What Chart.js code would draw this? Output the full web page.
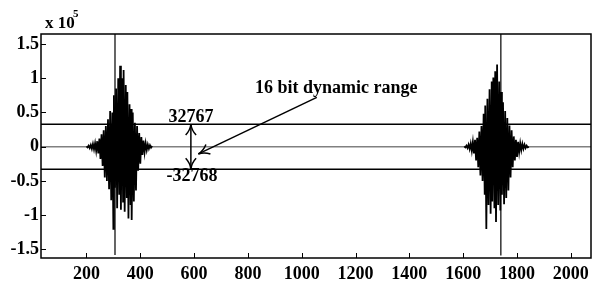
<!DOCTYPE html>
<html><head><meta charset="utf-8">
<script src="https://cdn.jsdelivr.net/npm/chart.js@4"></script>
<style>html,body{margin:0;padding:0;background:#fff}canvas{display:block}</style>
</head><body>
<canvas id="c" width="601" height="282"></canvas>
<script>
// values in units of 1e5 (axis shows "x 10^5")
const burst1X = [200,204,208,212,216,220,224,228,232,236,240,244,248,252,256,260,264,268,272,276,280,284,288,292,296,300,302,306,310,314,318,322,325,328,332,336,338,342,346,350,352,356,360,364,366,368,372,376,380,384,388,392,396,400,404,408,412,416,420,424,428,432,436,440,444];
const burst1Y = [0.005,-0.01,0.015,-0.02,0.025,-0.03,0.04,-0.04,0.05,-0.06,0.08,-0.1,0.12,-0.18,0.18,-0.28,0.24,-0.45,0.3,-0.5,0.4,-0.62,0.52,-0.78,0.5,-1.2,0.75,-0.6,0.85,-0.9,1.0,-0.7,1.18,-0.92,1.0,-0.8,1.12,-0.95,0.9,-0.75,0.8,-1.05,0.62,-0.85,0.55,-1.07,0.5,-0.8,0.35,-0.64,0.3,-0.35,0.2,-0.25,0.14,-0.12,0.09,-0.08,0.05,-0.05,0.03,-0.03,0.02,-0.015,0.01];
const burst2X = [1604,1608,1612,1616,1620,1624,1628,1632,1636,1640,1644,1648,1652,1656,1660,1664,1668,1672,1676,1680,1682,1686,1690,1694,1698,1702,1706,1708,1712,1716,1719,1722,1726,1730,1734,1738,1741,1744,1748,1752,1756,1760,1764,1768,1772,1776,1780,1784,1788,1792,1796,1800,1804,1808,1812,1816,1820,1824,1828,1832,1836,1840,1844];
const burst2Y = [0.005,-0.01,0.015,-0.02,0.03,-0.035,0.045,-0.06,0.07,-0.1,0.1,-0.2,0.13,-0.3,0.22,-0.42,0.3,-0.5,0.48,-0.7,0.6,-1.2,0.7,-0.85,0.84,-0.98,0.95,-0.8,1.01,-0.9,1.1,-1.1,1.2,-0.85,0.95,-0.93,0.8,-0.7,0.65,-0.84,0.52,-0.75,0.42,-0.64,0.31,-0.45,0.24,-0.3,0.15,-0.2,0.1,-0.15,0.07,-0.08,0.05,-0.05,0.04,-0.03,0.03,-0.02,0.015,-0.01,0.0];
const spikeX = [306, 1740];
const spikeTop = [1.7, 1.7];
const spikeBottom = [-1.58, -1.59];
const levelValues = [0.32767, 0, -0.32768];
const levelColors = ['#000000', '#808080', '#000000'];
const xTickValues = [200,400,600,800,1000,1200,1400,1600,1800,2000];
const yTickValues = [-1.5,-1,-0.5,0,0.5,1,1.5];
const xRange = [31, 2075];
const yRange = [-1.625, 1.645];

const annotations = {
  labels: [
    {text: '32767', x: 588, y: 0.426},
    {text: '-32768', x: 592, y: -0.437},
    {text: '16 bit dynamic range', x: 1128, y: 0.856}
  ],
  doubleArrow: {x: 588, y1: 0.32767, y2: -0.32768},
  pointer: {x1: 1056, y1: 0.72, x2: 616, y2: -0.106}
};

const FONT = '"Liberation Serif", "Times New Roman", serif';

function toXY(xs, ys) { return xs.map((x, i) => ({x: x, y: ys[i]})); }

const datasets = [
  {data: toXY(burst1X, burst1Y), borderColor: '#000', borderWidth: 1.8, pointRadius: 0, tension: 0},
  {data: toXY(burst2X, burst2Y), borderColor: '#000', borderWidth: 1.8, pointRadius: 0, tension: 0}
];
spikeX.forEach((x, i) => {
  datasets.push({data: [{x: x, y: spikeTop[i]}, {x: x, y: spikeBottom[i]}], borderColor: '#000', borderWidth: 1.2, pointRadius: 0});
});
levelValues.forEach((v, i) => {
  datasets.push({data: [{x: xRange[0], y: v}, {x: xRange[1], y: v}], borderColor: levelColors[i], borderWidth: 1.5, pointRadius: 0});
});

function head(ctx, tx, ty, ang) {
  const L = 12, a = 0.45;
  for (const s of [-1, 1]) {
    const bx = tx - L * Math.cos(ang + s * a), by = ty - L * Math.sin(ang + s * a);
    const cx = tx - 0.5 * L * Math.cos(ang + s * a * 0.25), cy = ty - 0.5 * L * Math.sin(ang + s * a * 0.25);
    ctx.beginPath(); ctx.moveTo(tx, ty); ctx.quadraticCurveTo(cx, cy, bx, by); ctx.stroke();
  }
}

const decor = {
  id: 'decor',
  afterDraw(chart) {
    const ctx = chart.ctx, xs = chart.scales.x, ys = chart.scales.y, a = chart.chartArea;
    ctx.save();
    ctx.strokeStyle = '#000'; ctx.lineWidth = 1.5;
    ctx.strokeRect(a.left, a.top, a.right - a.left, a.bottom - a.top);
    ctx.lineWidth = 1;
    xTickValues.forEach(v => { const p = Math.round(xs.getPixelForValue(v)) + 0.5; ctx.beginPath(); ctx.moveTo(p, a.bottom); ctx.lineTo(p, a.bottom - 5); ctx.stroke(); });
    yTickValues.forEach(v => { const p = Math.round(ys.getPixelForValue(v)) + 0.5; ctx.beginPath(); ctx.moveTo(a.left, p); ctx.lineTo(a.left + 5, p); ctx.stroke(); });
    // exponent label
    ctx.fillStyle = '#000';
    ctx.textAlign = 'left'; ctx.textBaseline = 'alphabetic';
    ctx.font = 'bold 17px ' + FONT;
    ctx.fillText('x 10', 45, 28);
    ctx.font = 'bold 11px ' + FONT;
    ctx.fillText('5', 73, 17);
    // text annotations
    ctx.font = 'bold 18px ' + FONT;
    ctx.textAlign = 'center'; ctx.textBaseline = 'middle';
    annotations.labels.forEach(l => ctx.fillText(l.text, xs.getPixelForValue(l.x), ys.getPixelForValue(l.y)));
    // double arrow
    ctx.lineWidth = 1.5;
    const d = annotations.doubleArrow;
    const dx = xs.getPixelForValue(d.x), dy1 = ys.getPixelForValue(d.y1), dy2 = ys.getPixelForValue(d.y2);
    ctx.beginPath(); ctx.moveTo(dx, dy1); ctx.lineTo(dx, dy2); ctx.stroke();
    head(ctx, dx, dy1, -Math.PI / 2);
    head(ctx, dx, dy2, Math.PI / 2);
    // pointer arrow
    const p = annotations.pointer;
    const px1 = xs.getPixelForValue(p.x1), py1 = ys.getPixelForValue(p.y1), px2 = xs.getPixelForValue(p.x2), py2 = ys.getPixelForValue(p.y2);
    ctx.beginPath(); ctx.moveTo(px1, py1); ctx.lineTo(px2, py2); ctx.stroke();
    head(ctx, px2, py2, Math.atan2(py2 - py1, px2 - px1));
    ctx.restore();
  }
};

new Chart(document.getElementById('c'), {
  type: 'line',
  data: {datasets: datasets},
  options: {
    responsive: false, animation: false, devicePixelRatio: 1,
    layout: {padding: {left: 0, right: 10, top: 34, bottom: 0}},
    plugins: {legend: {display: false}, tooltip: {enabled: false}},
    elements: {line: {borderCapStyle: 'butt', borderJoinStyle: 'miter'}},
    scales: {
      x: {
        type: 'linear', min: xRange[0], max: xRange[1],
        grid: {display: false, drawTicks: false}, border: {display: false},
        afterBuildTicks: s => { s.ticks = xTickValues.map(v => ({value: v})); },
        afterFit: s => { s.height = 24; },
        ticks: {color: '#000', padding: 6, maxRotation: 0, autoSkip: false, font: {family: FONT, size: 18, weight: 'bold'}, callback: v => String(v)}
      },
      y: {
        type: 'linear', min: yRange[0], max: yRange[1],
        grid: {display: false, drawTicks: false}, border: {display: false},
        afterBuildTicks: s => { s.ticks = yTickValues.map(v => ({value: v})); },
        afterFit: s => { s.width = 41; },
        ticks: {color: '#000', padding: 2, autoSkip: false, font: {family: FONT, size: 18, weight: 'bold'}, callback: v => String(v)}
      }
    }
  },
  plugins: [decor]
});
</script>
</body></html>
